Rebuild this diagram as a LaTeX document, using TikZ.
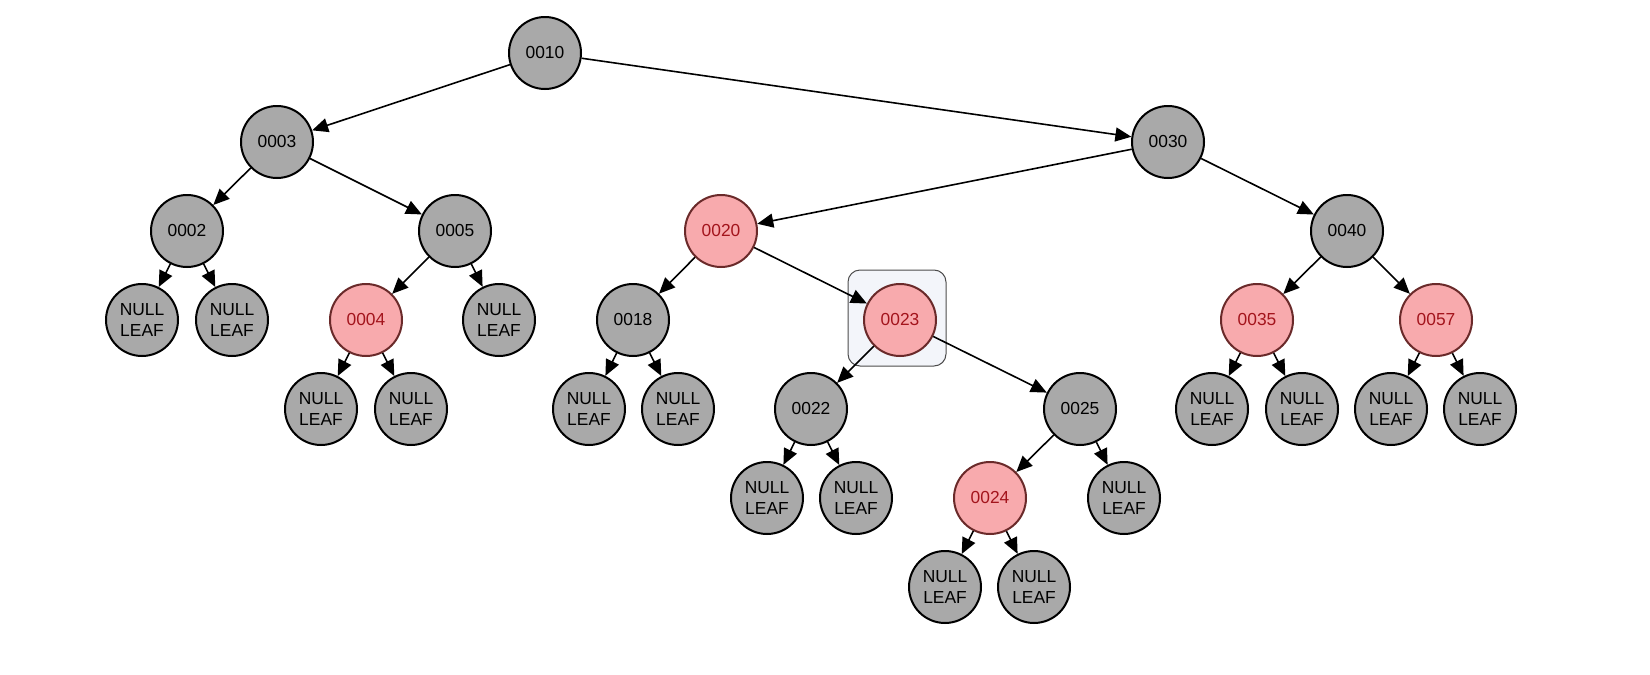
\documentclass[tikz,border=0pt]{standalone}
\usepackage{fontspec}
\setmainfont{Liberation Sans}
\usetikzlibrary{arrows.meta}

\definecolor{nodegray}{HTML}{A9A9A9}
\definecolor{nodered}{HTML}{F8AAAD}
\definecolor{textred}{HTML}{A3141C}
\definecolor{rededge}{HTML}{6A2A2A}
\definecolor{boxfill}{HTML}{F3F5FA}

\tikzset{
	blk/.style={circle, draw=black, line width=1pt, fill=nodegray, minimum size=36pt, inner sep=0pt,
		font=\fontsize{8.7}{10.5}\selectfont, align=center},
	rd/.style={blk, fill=nodered, draw=rededge, text=textred},
	nil/.style={blk},
	link/.style={-{Triangle[length=8pt, width=7pt]}, line width=0.8pt}
}

\begin{document}
\begin{tikzpicture}[x=0.5pt, y=-0.5pt]
	
	\useasboundingbox (0,0) rectangle (1650,675);
	
	% highlight round 0023
	\draw[rounded corners=6pt, fill=boxfill, draw=black!70, line width=0.5pt] (848,270) rectangle (946,366);
	
	% level 0 and 1
	\node[blk] (n10) at (545,53) {0010};
	\node[blk] (n3) at (277,142) {0003};
	\node[blk] (n30) at (1168,142) {0030};
	
	% level 2
	\node[blk] (n2) at (187,231) {0002};
	\node[blk] (n5) at (455,231) {0005};
	\node[rd] (n20) at (721,231) {0020};
	\node[blk] (n40) at (1347,231) {0040};
	
	% level 3
	\node[nil] (l2a) at (142,320) {NULL\\LEAF};
	\node[nil] (l2b) at (232,320) {NULL\\LEAF};
	\node[rd] (n4) at (366,320) {0004};
	\node[nil] (l5) at (499,320) {NULL\\LEAF};
	\node[blk] (n18) at (633,320) {0018};
	\node[rd] (n23) at (900,320) {0023};
	\node[rd] (n35) at (1257,320) {0035};
	\node[rd] (n57) at (1436,320) {0057};
	
	% level 4
	\node[nil] (l4a) at (321,409) {NULL\\LEAF};
	\node[nil] (l4b) at (411,409) {NULL\\LEAF};
	\node[nil] (l18a) at (589,409) {NULL\\LEAF};
	\node[nil] (l18b) at (678,409) {NULL\\LEAF};
	\node[blk] (n22) at (811,409) {0022};
	\node[blk] (n25) at (1080,409) {0025};
	\node[nil] (l35a) at (1212,409) {NULL\\LEAF};
	\node[nil] (l35b) at (1302,409) {NULL\\LEAF};
	\node[nil] (l57a) at (1391,409) {NULL\\LEAF};
	\node[nil] (l57b) at (1480,409) {NULL\\LEAF};
	
	% level 5 and 6
	\node[nil] (l22a) at (767,498) {NULL\\LEAF};
	\node[nil] (l22b) at (856,498) {NULL\\LEAF};
	\node[rd] (n24) at (990,498) {0024};
	\node[nil] (l25) at (1124,498) {NULL\\LEAF};
	\node[nil] (l24a) at (945,587) {NULL\\LEAF};
	\node[nil] (l24b) at (1034,587) {NULL\\LEAF};
	
	% connectors
	\draw[link] (n10) -- (n3);
	\draw[link] (n10) -- (n30);
	\draw[link] (n3) -- (n2);
	\draw[link] (n3) -- (n5);
	\draw[link] (n30) -- (n20);
	\draw[link] (n30) -- (n40);
	\draw[link] (n2) -- (l2a);
	\draw[link] (n2) -- (l2b);
	\draw[link] (n5) -- (n4);
	\draw[link] (n5) -- (l5);
	\draw[link] (n20) -- (n18);
	\draw[link] (n20) -- (n23);
	\draw[link] (n40) -- (n35);
	\draw[link] (n40) -- (n57);
	\draw[link] (n4) -- (l4a);
	\draw[link] (n4) -- (l4b);
	\draw[link] (n18) -- (l18a);
	\draw[link] (n18) -- (l18b);
	\draw[link] (n23) -- (n22);
	\draw[link] (n23) -- (n25);
	\draw[link] (n35) -- (l35a);
	\draw[link] (n35) -- (l35b);
	\draw[link] (n57) -- (l57a);
	\draw[link] (n57) -- (l57b);
	\draw[link] (n22) -- (l22a);
	\draw[link] (n22) -- (l22b);
	\draw[link] (n25) -- (n24);
	\draw[link] (n25) -- (l25);
	\draw[link] (n24) -- (l24a);
	\draw[link] (n24) -- (l24b);
	
\end{tikzpicture}
\end{document}
